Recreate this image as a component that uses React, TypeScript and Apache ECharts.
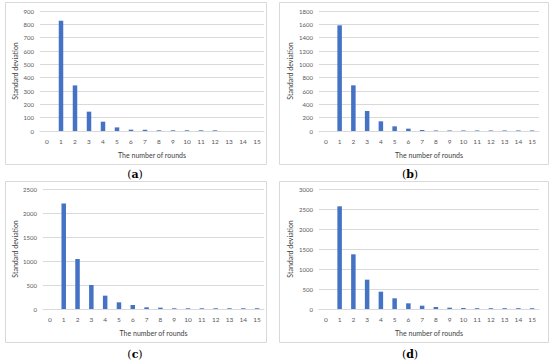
import React, { useEffect, useRef } from "react";
import * as echarts from "echarts";

const rounds = ["0", "1", "2", "3", "4", "5", "6", "7", "8", "9", "10", "11", "12", "13", "14", "15"];
const sdA = [0, 827, 342, 145, 70, 27, 10, 9, 5, 5, 5, 5, 5, 0, 0, 0];
const sdB = [0, 1585, 685, 300, 145, 70, 35, 15, 8, 8, 8, 8, 8, 8, 8, 8];
const sdC = [0, 2200, 1042, 500, 278, 139, 83, 35, 28, 15, 15, 15, 15, 15, 15, 15];
const sdD = [0, 2567, 1367, 733, 433, 267, 142, 83, 50, 33, 25, 20, 20, 20, 20, 20];
const panelLabels = ["a", "b", "c", "d"];
const yMax = [900, 1800, 2500, 3000];
const yStep = [100, 200, 500, 500];
const xTitle = "The number of rounds";
const yTitle = "Standard deviation";

export default function App() {
  const ref = useRef<HTMLDivElement>(null);
  useEffect(() => {
    document.body.style.margin = "0";
    if (!ref.current) return;
    const chart = echarts.init(ref.current, null, { renderer: "svg" });
    const font = "Lato, 'Open Sans', sans-serif";
    const grids = [
      { left: 40, top: 11, width: 224, height: 120, gap: 22 },
      { left: 319, top: 11, width: 220, height: 120, gap: 26 },
      { left: 43, top: 189, width: 221, height: 120, gap: 25 },
      { left: 319, top: 189, width: 220, height: 120, gap: 26 },
    ];
    const data = [sdA, sdB, sdC, sdD];
    const boxes = [
      { x: 5, y: 2, w: 261, h: 162, lx: 135, ly: 174 },
      { x: 279, y: 2, w: 269, h: 162, lx: 410, ly: 174 },
      { x: 5, y: 181, w: 261, h: 161, lx: 135, ly: 354 },
      { x: 279, y: 181, w: 269, h: 161, lx: 410, ly: 354 },
    ];
    const graphic: any[] = [];
    boxes.forEach((b, i) => {
      graphic.push({
        type: "rect",
        shape: { x: b.x + 0.5, y: b.y + 0.5, width: b.w, height: b.h },
        style: { fill: "none", stroke: "#d9d9d9", lineWidth: 1 },
        silent: true,
      });
      graphic.push({
        type: "text",
        x: b.lx,
        y: b.ly,
        style: {
          text: "{p|(}{b|" + panelLabels[i] + "}{p|)}",
          align: "center",
          verticalAlign: "middle",
          rich: {
            p: { fontFamily: "'DejaVu Serif', serif", fontSize: 11, fill: "#000" },
            b: { fontFamily: "'DejaVu Serif', serif", fontSize: 11, fontWeight: "bold", fill: "#000" },
          },
        },
      });
    });
    chart.setOption({
      animation: false,
      backgroundColor: "#fff",
      textStyle: { fontFamily: font },
      grid: grids.map((g) => ({ left: g.left, top: g.top, width: g.width, height: g.height, containLabel: false })),
      xAxis: grids.map((g, i) => ({
        type: "category",
        gridIndex: i,
        data: rounds,
        name: xTitle,
        nameLocation: "middle",
        nameGap: 20,
        nameTextStyle: { fontFamily: font, fontSize: 7, color: "#404040" },
        axisLine: { lineStyle: { color: "#d9d9d9" } },
        axisTick: { show: false },
        axisLabel: { fontFamily: font, fontSize: 6.5, color: "#595959", margin: 7, interval: 0 },
      })),
      yAxis: grids.map((g, i) => ({
        type: "value",
        gridIndex: i,
        min: 0,
        max: yMax[i],
        interval: yStep[i],
        name: yTitle,
        nameLocation: "middle",
        nameGap: g.gap,
        nameTextStyle: { fontFamily: font, fontSize: 7, color: "#404040" },
        axisLine: { show: false },
        axisTick: { show: false },
        axisLabel: { fontFamily: font, fontSize: 6, color: "#595959", margin: 6, formatter: (v: number) => String(v) },
        splitLine: { lineStyle: { color: "#d9d9d9", width: 1 } },
      })),
      series: data.map((d, i) => ({
        type: "bar",
        xAxisIndex: i,
        yAxisIndex: i,
        data: d,
        barWidth: 4.5,
        itemStyle: { color: "#4472c4" },
      })),
      graphic,
    });
    return () => chart.dispose();
  }, []);
  return <div ref={ref} style={{ width: 550, height: 362 }} />;
}
